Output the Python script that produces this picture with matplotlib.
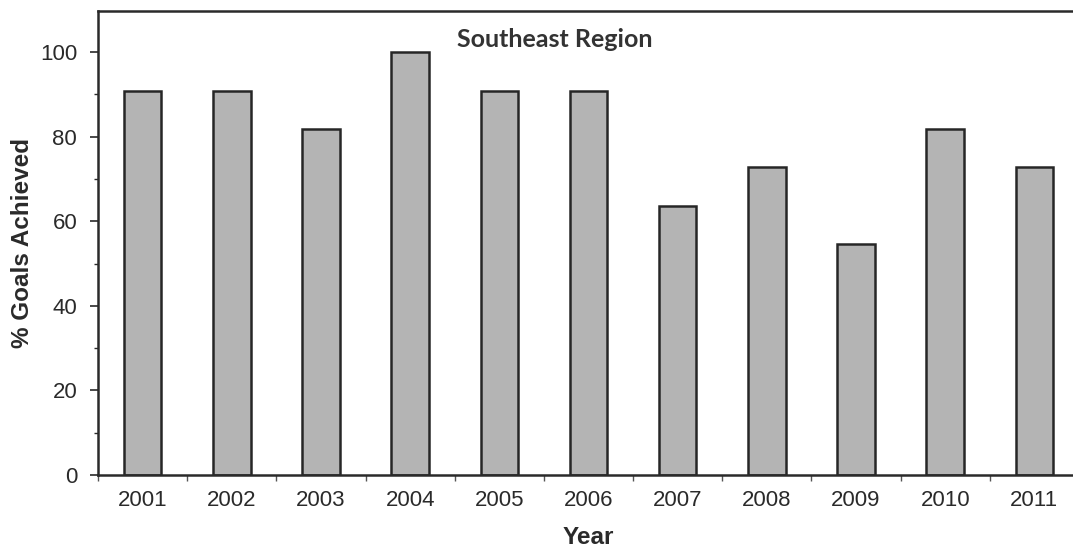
import matplotlib
matplotlib.use("Agg")
import matplotlib.pyplot as plt
from matplotlib.ticker import MultipleLocator, FixedLocator
import numpy as np

years = ["2001", "2002", "2003", "2004", "2005", "2006",
         "2007", "2008", "2009", "2010", "2011"]
pct_goals = [90.9, 90.9, 81.8, 100.0, 90.9, 90.9, 63.6, 72.7, 54.5, 81.8, 72.7]
y_ticks = [0, 20, 40, 60, 80, 100]

fig = plt.figure(figsize=(10.73, 5.48), dpi=100)
# axes spans slightly past the right edge of the canvas
ax = fig.add_axes([98 / 1073, 1 - 475 / 548, 981 / 1073, 464 / 548])

x = np.arange(len(years))
ax.bar(x, pct_goals, width=0.42, color="#b4b4b4", edgecolor="#262626",
       linewidth=1.8, zorder=2)

ax.set_xlim(-0.5, len(years) - 0.5)
ax.set_ylim(0, 109.7)

ax.set_yticks(y_ticks)
ax.yaxis.set_minor_locator(MultipleLocator(10))
ax.set_xticks(x)
ax.set_xticklabels(years)
ax.xaxis.set_minor_locator(FixedLocator(np.arange(-0.5, len(years), 1.0)))

for lab in ax.get_yticklabels() + ax.get_xticklabels():
    lab.set_fontfamily("Liberation Sans")
    lab.set_fontsize(16)
    lab.set_color("#2a2a2a")

ax.tick_params(axis="y", which="major", direction="out", length=6, width=1.2,
               pad=9, colors="#2a2a2a")
ax.tick_params(axis="y", which="minor", direction="out", length=3, width=1.0,
               colors="#2a2a2a")
ax.tick_params(axis="x", which="major", length=0, pad=11)
ax.tick_params(axis="x", which="minor", direction="out", length=4, width=1.0,
               colors="#555555")

for side in ["left", "bottom", "top"]:
    ax.spines[side].set_color("#2a2a2a")
    ax.spines[side].set_linewidth(1.8)
ax.spines["right"].set_visible(False)

ax.set_ylabel("% Goals Achieved", fontfamily="Liberation Sans", fontsize=17.5,
              fontweight="bold", color="#2a2a2a")
ax.set_xlabel("Year", fontfamily="Liberation Sans", fontsize=17.5,
              fontweight="bold", color="#2a2a2a")
ax.yaxis.set_label_coords(-64 / 981, 0.5)
ax.xaxis.set_label_coords(0.5, -51 / 464)

ax.text(4.62, 103.0, "Southeast Region", ha="center", va="center",
        fontfamily="Lato", fontweight="bold", fontsize=18, color="#333333")

fig.savefig("out.png", dpi=100, facecolor="white")
